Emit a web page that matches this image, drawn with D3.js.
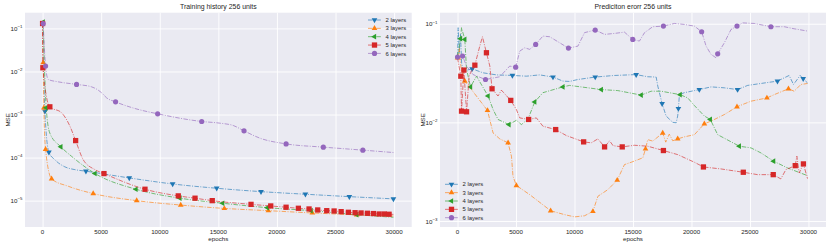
<!DOCTYPE html>
<html>
<head>
<meta charset="utf-8">
<script src="https://cdn.jsdelivr.net/npm/d3@7"></script>
<style>
body { margin: 0; background: #fff; }
text { font-family: "Liberation Sans", Arial, sans-serif; fill: #262626; }
</style>
</head>
<body>
<svg id="chart" width="830" height="246"></svg>
<script>
const layerNames = ["2 layers", "3 layers", "4 layers", "5 layers", "6 layers"];
const layerColors = ["#1f77b4", "#ff7f0e", "#2ca02c", "#d62728", "#9467bd"];
const epochTicks = [0, 5000, 10000, 15000, 20000, 25000, 30000];
const trainTicks = [1e-5, 1e-4, 1e-3, 1e-2, 1e-1];
const errorTicks = [1e-3, 1e-2, 1e-1];

// points: [epoch, mse, marker]
const train2 = [[0, 0.13], [196, 1.2e-3, 1], [538, 1.33e-4, 1], [1050, 8.9e-5], [1900, 6.1e-5], [2760, 5.25e-5],
	[3700, 4.83e-5, 1], [7400, 3.37e-5, 1], [11100, 2.44e-5, 1], [14860, 1.94e-5, 1], [18640, 1.62e-5, 1],
	[22430, 1.41e-5, 1], [26180, 1.24e-5, 1], [29940, 1.1e-5, 1]];
const train3 = [[0, 0.13], [50, 0.016, 1], [110, 1.43e-3, 1], [256, 1.55e-4, 1], [770, 3.2e-5, 1], [2190, 2.16e-5],
	[4320, 1.46e-5, 1], [8030, 1.0e-5, 1], [11790, 7.9e-6, 1], [15510, 6.6e-6, 1], [19270, 5.85e-6, 1],
	[23020, 5.18e-6, 1], [26810, 4.68e-6, 1], [29940, 4.4e-6]];
const train4 = [[50, 0.14, 1], [310, 1.43e-3, 1], [620, 3.7e-4], [1560, 1.78e-4, 1], [2475, 1.07e-4],
	[4470, 4.27e-5, 1], [7970, 1.84e-5, 1], [11720, 1.14e-5, 1], [15370, 8.7e-6, 1], [19180, 6.87e-6, 1],
	[22910, 5.85e-6, 1], [26810, 4.72e-6, 1], [29940, 4.11e-6]];
const train5 = [[0, 0.13, 1], [25, 0.0122, 1], [620, 1.51e-3, 1], [1620, 1.1e-3], [2330, 5.4e-4], [2820, 2.48e-4, 1],
	[3470, 8.9e-5], [4470, 5.25e-5], [5240, 4.25e-5, 1], [8740, 1.84e-5, 1], [11580, 1.29e-5, 1], [13010, 1.14e-5, 1],
	[14480, 1.0e-5, 1], [17790, 8.2e-6, 1], [19470, 7.53e-6, 1], [20780, 7.03e-6, 1], [21830, 6.65e-6, 1],
	[22740, 6.41e-6, 1], [23480, 6.08e-6, 1], [24250, 5.85e-6, 1], [24880, 5.75e-6, 1], [25480, 5.55e-6, 1],
	[26100, 5.37e-6, 1], [26670, 5.25e-6, 1], [27180, 5.18e-6, 1], [27720, 5.09e-6, 1], [28230, 5.01e-6, 1],
	[28720, 4.9e-6, 1], [29170, 4.9e-6, 1], [29570, 4.83e-6, 1], [29940, 4.8e-6]];
const train6 = [[50, 0.13, 1], [256, 0.0134, 1], [480, 0.00652], [1330, 0.00575], [2900, 0.00501, 1], [4180, 0.0044],
	[5040, 0.0032], [5460, 0.00245], [6230, 0.00197, 1], [7880, 0.00138], [9820, 0.00104, 1], [13580, 6.9e-4, 1],
	[15140, 6.3e-4], [16280, 5.55e-4], [17190, 4.18e-4, 1], [18560, 2.82e-4], [20780, 2.08e-4, 1],
	[23960, 1.75e-4, 1], [27330, 1.49e-4, 1], [29940, 1.31e-4]];

const err2 = [[0, 0.0468], [50, 0.0912], [150, 0.05], [250, 0.0794], [350, 0.0398], [480, 0.0331], [1250, 0.0349, 1],
	[2180, 0.0318], [3330, 0.0303], [4690, 0.0299, 1], [5890, 0.0294], [7020, 0.0303], [8160, 0.0288, 1],
	[9010, 0.0262], [9580, 0.026], [10290, 0.0272], [11770, 0.0288, 1], [13420, 0.0299], [15270, 0.0305, 1],
	[16260, 0.029], [16980, 0.0288], [17120, 0.0233], [17490, 0.0155, 1], [17830, 0.0116], [18400, 0.01],
	[18690, 0.0099], [18820, 0.0116], [18880, 0.0138, 1], [18970, 0.0191], [19390, 0.02], [20250, 0.021],
	[20670, 0.0215, 1], [21670, 0.0229], [22810, 0.0224], [23940, 0.0215, 1], [24800, 0.0237], [25940, 0.0248],
	[27350, 0.0262, 1], [28350, 0.0299], [28720, 0.0242], [29290, 0.0299], [29550, 0.0277, 1], [29920, 0.0251]];
const err3 = [[0, 0.0452, 1], [150, 0.056], [300, 0.0355], [620, 0.0262, 1], [1190, 0.0215], [2560, 0.0132, 1],
	[3040, 0.0078], [3610, 0.0068], [4320, 0.0062, 1], [4610, 0.00454], [4740, 0.00284], [5030, 0.00229, 1],
	[6170, 0.00185], [7960, 0.00127, 1], [9150, 0.00116], [10010, 0.0011], [10860, 0.00113], [11570, 0.00125, 1],
	[12000, 0.00178], [12850, 0.00208], [13650, 0.00259, 1], [14270, 0.00373], [14850, 0.00394], [15840, 0.00437],
	[16070, 0.00538, 1], [16260, 0.00668], [16690, 0.00646], [17540, 0.0078, 1], [17800, 0.0063], [18100, 0.0076],
	[18400, 0.0065], [18820, 0.0068, 1], [19390, 0.00713], [20250, 0.0075], [21100, 0.00966, 1], [21670, 0.0103],
	[22810, 0.012], [23890, 0.0144, 1], [25090, 0.0164], [26450, 0.0177, 1], [27070, 0.0191], [28290, 0.0219, 1],
	[28780, 0.0207], [29350, 0.0242], [29920, 0.0248]];
const err4 = [[0, 0.0468], [256, 0.0705, 1], [340, 0.0912], [620, 0.0693, 1], [770, 0.0344], [1110, 0.0229, 1],
	[1620, 0.0294], [2610, 0.0185, 1], [3040, 0.0135], [3460, 0.0107], [4400, 0.0095, 1], [5030, 0.0105],
	[5460, 0.0095], [6020, 0.0108], [6600, 0.0161, 1], [7300, 0.02], [9010, 0.0229, 1], [9580, 0.0237],
	[12290, 0.0215, 1], [13700, 0.021], [15700, 0.0189, 1], [16550, 0.0207], [17410, 0.0207], [19030, 0.0191, 1],
	[19680, 0.0177], [20250, 0.0148], [21100, 0.0116], [21610, 0.0107, 1], [22240, 0.0075], [24090, 0.00573, 1],
	[25090, 0.00551], [25940, 0.0049], [27020, 0.00404, 1], [28210, 0.00345], [29920, 0.00288]];
const err5 = [[0, 0.045], [280, 0.0294, 1], [340, 0.013, 1], [540, 0.0339, 1], [770, 0.0128, 1], [1000, 0.03],
	[1480, 0.038, 1], [1900, 0.0593], [2130, 0.0738], [2470, 0.0508, 1], [2760, 0.0372], [2950, 0.0219, 1],
	[3460, 0.0185], [3750, 0.0212], [4550, 0.0167, 1], [5030, 0.0135], [5320, 0.0111], [6080, 0.0107, 1],
	[6740, 0.0111], [7300, 0.00914], [8390, 0.00845, 1], [9300, 0.00735], [10780, 0.00634, 1], [11430, 0.0062],
	[12000, 0.0068], [12570, 0.00564, 1], [13000, 0.0065], [13300, 0.0058], [14080, 0.00564, 1], [15130, 0.00586],
	[16260, 0.00573], [17600, 0.00518, 1], [18820, 0.00471], [20250, 0.00394], [21020, 0.00353, 1], [22530, 0.00337],
	[24430, 0.00312, 1], [25650, 0.00295], [26990, 0.00295, 1], [27640, 0.00267], [28070, 0.00332],
	[28870, 0.00364, 1], [29010, 0.00454], [29210, 0.00307], [29570, 0.00379, 1], [29920, 0.00269]];
const err6 = [[0, 0.0459, 1], [430, 0.047, 1], [770, 0.0372], [1330, 0.0305], [2390, 0.0272, 1], [3610, 0.029],
	[4460, 0.0372], [4970, 0.0363, 1], [5320, 0.0528], [5740, 0.057], [6170, 0.055], [6680, 0.0617, 1],
	[7300, 0.075], [7880, 0.0738], [8730, 0.0641], [9480, 0.0566, 1], [10290, 0.0593], [10860, 0.0813],
	[11770, 0.0863, 1], [12570, 0.078], [13420, 0.0798], [14270, 0.0822], [14980, 0.0693, 1], [15550, 0.0667],
	[15980, 0.0811], [16690, 0.0933], [17600, 0.0946, 1], [18540, 0.1007], [19390, 0.0984], [20250, 0.0946],
	[20870, 0.083, 1], [21250, 0.0593], [21670, 0.0489], [22100, 0.0452], [22240, 0.0495, 1], [22810, 0.0641],
	[23380, 0.0875], [23890, 0.0946, 1], [24370, 0.102], [25370, 0.1007], [26790, 0.0933, 1], [27930, 0.0933],
	[28780, 0.0889], [29920, 0.0843]];

const panels = [
	{
		title: "Training history 256 units",
		left: 25, right: 411.7, top: 12.7, bottom: 227,
		yDomain: [10 ** -5.612, 10 ** -0.635],
		yTicks: trainTicks,
		series: [train2, train3, train4, train5, train6],
		curve: d3.curveMonotoneX,
		legendX: 368, legendY: 20,
	},
	{
		title: "Prediciton erorr 256 units",
		left: 440, right: 826, top: 12.7, bottom: 227,
		yDomain: [10 ** -3.061, 10 ** -0.888],
		yTicks: errorTicks,
		series: [err2, err3, err4, err5, err6],
		curve: d3.curveLinear,
		legendX: 445, legendY: 184.3,
	},
];

const svg = d3.select("#chart");

function markerPath(i) {
	if (i === 3) return d3.symbol(d3.symbolSquare, 28)();
	if (i === 4) return d3.symbol(d3.symbolCircle, 21)();
	return d3.symbol(d3.symbolTriangle, 14)();
}
function markerRotation(i) {
	if (i === 0) return 180;
	if (i === 2) return -90;
	return 0;
}

function drawMarker(g, i, x, y) {
	g.append("path")
		.attr("d", markerPath(i))
		.attr("transform", `translate(${x},${y}) rotate(${markerRotation(i)})`)
		.attr("fill", layerColors[i]);
}

function drawPanel(p) {
	const x = d3.scaleLinear().domain([-1500, 31500]).range([p.left, p.right]);
	const y = d3.scaleLog().domain(p.yDomain).range([p.bottom, p.top]);
	const g = svg.append("g");

	g.append("rect")
		.attr("x", p.left).attr("y", p.top)
		.attr("width", p.right - p.left).attr("height", p.bottom - p.top)
		.attr("fill", "#eaeaf2");

	// grid
	g.append("g")
		.attr("transform", `translate(0,${p.bottom})`)
		.call(d3.axisBottom(x).tickValues(epochTicks).tickSize(-(p.bottom - p.top)).tickFormat(""))
		.call((a) => a.select(".domain").remove())
		.call((a) => a.selectAll("line").attr("stroke", "#fff").attr("stroke-width", 0.9));
	g.append("g")
		.attr("transform", `translate(${p.left},0)`)
		.call(d3.axisLeft(y).tickValues(p.yTicks).tickSize(-(p.right - p.left)).tickFormat(""))
		.call((a) => a.select(".domain").remove())
		.call((a) => a.selectAll("line").attr("stroke", "#fff").attr("stroke-width", 0.9));

	// tick labels
	g.selectAll(".xlab")
		.data(epochTicks)
		.enter()
		.append("text")
		.attr("x", (d) => x(d))
		.attr("y", p.bottom + 6.5)
		.attr("text-anchor", "middle")
		.attr("font-size", 6.2)
		.text((d) => d);
	const yl = g.selectAll(".ylab")
		.data(p.yTicks)
		.enter()
		.append("text")
		.attr("x", p.left - 2.5)
		.attr("y", (d) => y(d) + 2.6)
		.attr("text-anchor", "end")
		.attr("font-size", 6.2);
	yl.append("tspan").text("10");
	yl.append("tspan")
		.attr("dy", -2.8)
		.attr("font-size", 4.4)
		.text((d) => "\u2212" + Math.round(-Math.log10(d)));

	const cx = (p.left + p.right) / 2;
	g.append("text").attr("x", cx).attr("y", 9).attr("text-anchor", "middle").attr("font-size", 6.9).text(p.title);
	g.append("text").attr("x", cx).attr("y", 240.5).attr("text-anchor", "middle").attr("font-size", 6.2).text("epochs");
	g.append("text")
		.attr("transform", `translate(${p.left - 15.5},${(p.top + p.bottom) / 2}) rotate(-90)`)
		.attr("text-anchor", "middle")
		.attr("font-size", 6.2)
		.text("MSE");

	const line = d3.line().curve(p.curve).x((d) => x(d[0])).y((d) => y(d[1]));
	p.series.forEach((pts, i) => {
		const s = g.append("g");
		s.append("path")
			.attr("d", line(pts))
			.attr("fill", "none")
			.attr("stroke", layerColors[i])
			.attr("stroke-width", 0.85)
			.attr("stroke-opacity", 0.75)
			.attr("stroke-dasharray", "4.5,1.4,1,1.4");
		pts.filter((d) => d[2]).forEach((d) => drawMarker(s, i, x(d[0]), y(d[1])));
	});

	// legend
	layerNames.forEach((name, i) => {
		const ly = p.legendY + i * 8.35;
		g.append("line")
			.attr("x1", p.legendX).attr("x2", p.legendX + 13)
			.attr("y1", ly).attr("y2", ly)
			.attr("stroke", layerColors[i])
			.attr("stroke-width", 0.85)
			.attr("stroke-opacity", 0.75)
			.attr("stroke-dasharray", "4.5,1.4,1,1.4");
		drawMarker(g, i, p.legendX + 6.5, ly);
		g.append("text")
			.attr("x", p.legendX + 17.5)
			.attr("y", ly + 2.1)
			.attr("font-size", 5.9)
			.text(name);
	});
}

panels.forEach(drawPanel);
</script>
</body>
</html>
